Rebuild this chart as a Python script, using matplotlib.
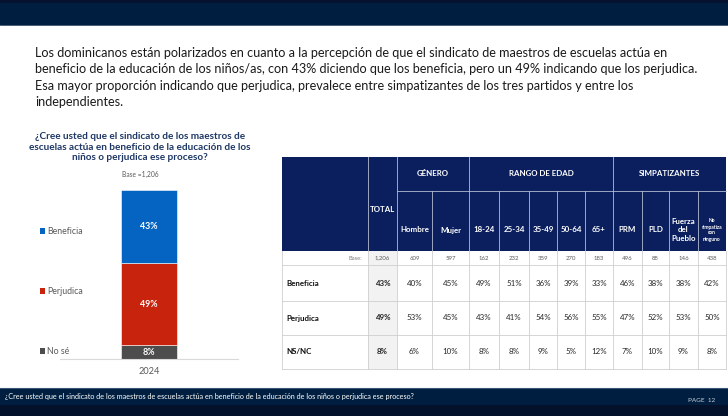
import matplotlib
matplotlib.use("Agg")
import matplotlib.pyplot as plt
from matplotlib.patches import Rectangle

plt.rcParams['font.family'] = ['Lato', 'DejaVu Sans']

# ---------------- data ----------------
categories = ["Beneficia", "Perjudica", "No sé"]
year_label = ["2024"]
values_2024 = [43, 49, 8]
bar_colors = ["#0563C1", "#C8230C", "#4D4D4D"]

col_labels = ["TOTAL", "Hombre", "Mujer", "18-24", "25-34", "35-49", "50-64", "65+",
              "PRM", "PLD", "Fuerza\ndel\nPueblo", "No\nsimpatiza\ncon\nninguno"]
group_labels = ["GÉNERO", "RANGO DE EDAD", "SIMPATIZANTES"]
group_spans = [(1, 2), (3, 7), (8, 11)]
bases = ["1,206", "609", "597", "162", "232", "359", "270", "183", "496", "88", "146", "438"]
row_labels = ["Beneficia", "Perjudica", "NS/NC"]
row_beneficia = [43, 40, 45, 49, 51, 36, 39, 33, 46, 38, 38, 42]
row_perjudica = [49, 53, 45, 43, 41, 54, 56, 55, 47, 52, 53, 50]
row_nsnc = [8, 6, 10, 8, 8, 9, 5, 12, 7, 10, 9, 8]
table_rows = [row_beneficia, row_perjudica, row_nsnc]

title_lines = ["Los dominicanos están polarizados en cuanto a la percepción de que el sindicato de maestros de escuelas actúa en",
               "beneficio de la educación de los niños/as, con 43% diciendo que los beneficia, pero un 49% indicando que los perjudica.",
               "Esa mayor proporción indicando que perjudica, prevalece entre simpatizantes de los tres partidos y entre los",
               "independientes."]
chart_title = "¿Cree usted que el sindicato de los maestros de\nescuelas actúa en beneficio de la educación de los\nniños o perjudica ese proceso?"
base_text = "Base =1,206"
footer_text = "¿Cree usted que el sindicato de los maestros de escuelas actúa en beneficio de la educación de los niños o perjudica ese proceso?"
page_text = "PAGE  12"

# ---------------- figure ----------------
W, H = 728, 416
fig = plt.figure(figsize=(W / 100, H / 100), dpi=100)
fig.patch.set_facecolor("white")

bg = fig.add_axes([0, 0, 1, 1])
bg.set_xlim(0, W)
bg.set_ylim(H, 0)
bg.axis("off")

NAVY = "#001F40"
# top banner
bg.add_patch(Rectangle((0, 0), W, 25, color=NAVY, lw=0))
bg.add_patch(Rectangle((0, 0), W, 3, color="#061330", lw=0))
bg.plot([0, W], [25, 25], color="#2a4060", lw=0.6)
# footer
bg.add_patch(Rectangle((0, 388), W, 28, color=NAVY, lw=0))
bg.add_patch(Rectangle((0, 405), W, 11, color="#04112a", lw=0))
bg.plot([0, W], [388, 388], color="#3a5575", lw=0.8)
bg.text(5, 396, footer_text, color="white", fontsize=5.2, va="center", ha="left")
bg.text(715, 400, page_text, color="#c8d0dc", fontsize=4.6, va="center", ha="right")

# body text
for i, line in enumerate(title_lines):
    bg.text(35, 53 + i * 16.4, line, fontsize=9.1, color="#1a1a1a", va="center", ha="left")

# chart title
bg.text(140, 147, chart_title, fontsize=7.2, fontweight="bold", color="#1F3864",
        ha="center", va="center", linespacing=1.25)
bg.text(140, 174, base_text, fontsize=4.8, color="#595959", ha="center", va="center")

# legend
leg_y = [231, 291, 351]
for lab, c, y in zip(categories, bar_colors, leg_y):
    bg.add_patch(Rectangle((40, y - 2.6), 5.2, 5.2, color=c, lw=0))
    bg.text(47, y, lab, fontsize=6.3, color="#595959", va="center", ha="left")

# ---------------- stacked bar ----------------
ax = fig.add_axes([60 / W, (H - 359) / H, 178 / W, 169 / H])
ax.set_xlim(-0.5, 0.5)
ax.set_ylim(0, 100)
order = [2, 1, 0]  # No sé at bottom, then Perjudica, then Beneficia
bottom = 0
for i in order:
    v = values_2024[i]
    ax.bar([0], [v], bottom=bottom, width=0.315, color=bar_colors[i],
           edgecolor="white", linewidth=0.4)
    ax.text(0, bottom + v / 2, f"{v}%", color="white", fontsize=6.4, fontweight="bold",
            ha="center", va="center")
    bottom += v
for s in ["top", "right", "left"]:
    ax.spines[s].set_visible(False)
ax.spines["bottom"].set_color("#D9D9D9")
ax.spines["bottom"].set_linewidth(0.8)
ax.set_yticks([])
ax.set_xticks([0])
ax.set_xticklabels(year_label, fontsize=6.6, color="#595959")
ax.tick_params(axis="x", length=0, pad=6)
ax.patch.set_alpha(0)

# ---------------- table ----------------
xe = [282, 368, 397, 432, 469, 499, 529, 557, 585, 613, 642, 669, 698, 726]
y_top, y_grp, y_hdr, y_base = 157, 191, 251, 265
row_edges = [265, 301, 335, 369]
HN = "#0B1F5E"
HL = "#b4bdd2"
GRID = "#CFCFCF"

# header background
bg.add_patch(Rectangle((xe[0], y_top), xe[-1] - xe[0], y_hdr - y_top, color=HN, lw=0))
# header lines
for k in range(1, len(xe) - 1):
    x = xe[k]
    if k in (1, 2, 4, 9):
        bg.plot([x, x], [y_top, y_hdr], color=HL, lw=0.6)
    else:
        bg.plot([x, x], [y_grp, y_hdr], color=HL, lw=0.6)
bg.plot([xe[2], xe[-1]], [y_grp, y_grp], color=HL, lw=0.6)

# group labels: column j occupies xe[j+1]..xe[j+2]
for g, (a, b) in zip(group_labels, group_spans):
    bg.text((xe[a + 1] + xe[b + 2]) / 2, (y_top + y_grp) / 2 - 1, g, color="white", fontsize=5.7,
            fontweight="bold", ha="center", va="center")

# column headers
for j, lab in enumerate(col_labels):
    xc = (xe[j + 1] + xe[j + 2]) / 2
    if j == 0:
        bg.text(xc, 209, lab, color="white", fontsize=5.7, fontweight="bold", ha="center", va="center")
    elif j == 11:
        bg.text(xc, 230, lab, color="white", fontsize=3.5, fontweight="bold", ha="center",
                va="center", linespacing=1.25)
    elif j == 10:
        bg.text(xc, 230, lab, color="white", fontsize=5.7, fontweight="bold", ha="center",
                va="center", linespacing=1.2)
    else:
        bg.text(xc, 230, lab, color="white", fontsize=5.7, fontweight="bold", ha="center", va="center")

# body backgrounds: TOTAL column grey
bg.add_patch(Rectangle((xe[1], y_hdr), xe[2] - xe[1], row_edges[-1] - y_hdr, color="#F2F2F2", lw=0))

# grid lines body
for x in xe:
    bg.plot([x, x], [y_hdr, row_edges[-1]], color=GRID, lw=0.6)
for y in [y_base] + row_edges[1:]:
    bg.plot([xe[0], xe[-1]], [y, y], color=GRID, lw=0.6)

# base row
bg.text(xe[1] - 6, (y_hdr + y_base) / 2, "Base:", fontsize=4.2, color="#7f7f7f", ha="right", va="center")
for j, b in enumerate(bases):
    xc = (xe[j + 1] + xe[j + 2]) / 2
    bg.text(xc, (y_hdr + y_base) / 2, b, fontsize=4.3, color="#595959", ha="center", va="center")

# data rows
for r, (lab, vals) in enumerate(zip(row_labels, table_rows)):
    yc = (row_edges[r] + row_edges[r + 1]) / 2
    bg.text(xe[0] + 4, yc, lab, fontsize=5.7, fontweight="bold", color="#111111", ha="left", va="center")
    for j, v in enumerate(vals):
        xc = (xe[j + 1] + xe[j + 2]) / 2
        bg.text(xc, yc, f"{v}%", fontsize=5.7, color="#262626",
                fontweight="bold" if j == 0 else "normal", ha="center", va="center")

fig.savefig("out.png", dpi=100)
